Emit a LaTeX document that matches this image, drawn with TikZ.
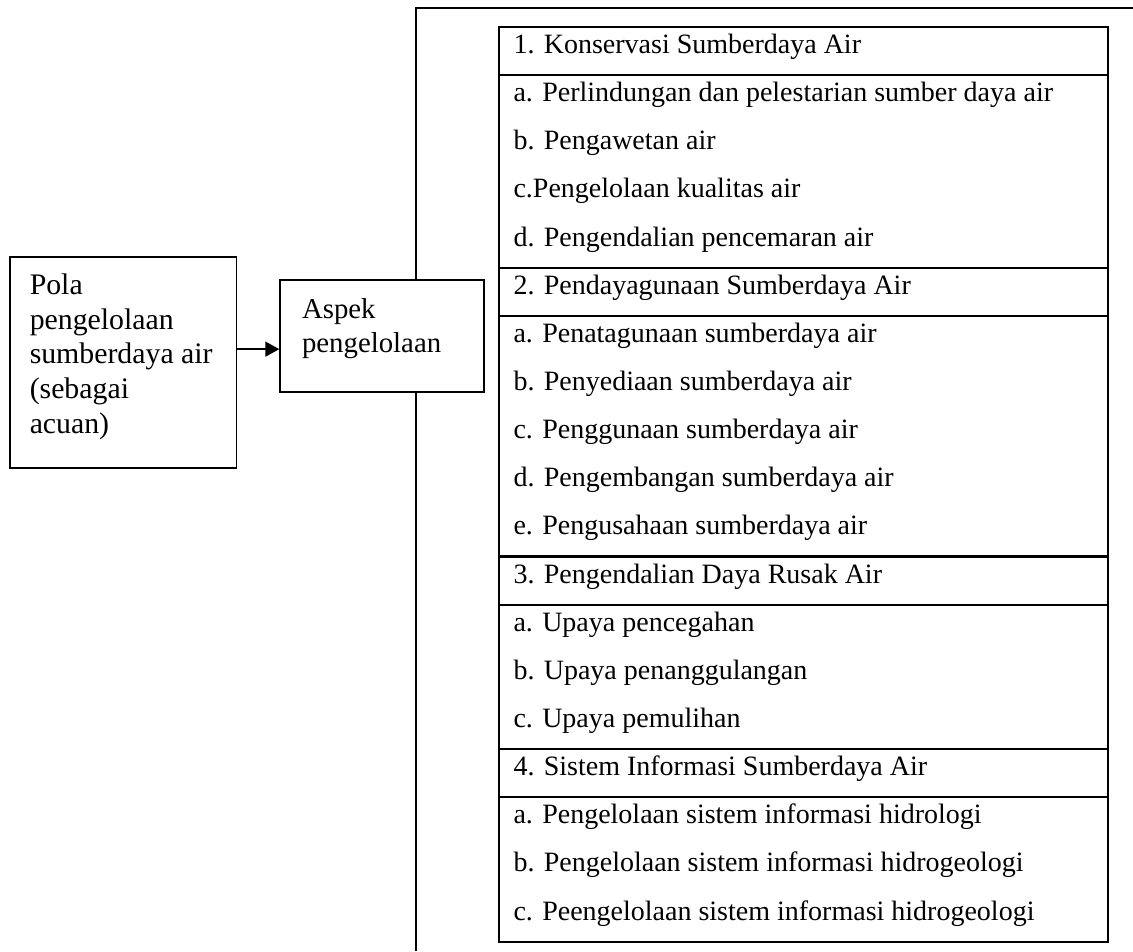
\documentclass[tikz,border=0pt]{standalone}
\usepackage{fontspec}
\setmainfont{Liberation Serif}
\usetikzlibrary{arrows.meta,calc}

\begin{document}
\begin{tikzpicture}[x=1pt, y=-1pt]
    \tikzstyle{mainbox} = [rectangle, draw, line width=1.5pt, anchor=north west, inner ysep=0pt]
    \tikzstyle{celltext} = [anchor=base west, inner sep=0pt, font=\fontsize{28}{34}\selectfont]
    \tikzstyle{tableline} = [line width=2.2pt]
    \tikzstyle{bracket} = [line width=2pt]

    \useasboundingbox (0,0) rectangle (1133,951);

    % Left boxes
    \node[mainbox, inner xsep=20pt, inner ysep=17.2pt, font=\fontsize{29.8}{34.6}\selectfont] (pola) at (9,256)
        {\parbox[t][176.9pt][t]{186.7pt}{Pola\\ pengelolaan\\ sumberdaya air\\ (sebagai\\ acuan)}};
    \node[mainbox, inner xsep=22pt, inner ysep=18.3pt, font=\fontsize{28.8}{34.4}\selectfont] (aspek) at (279.3,279.3)
        {\parbox[t][75.1pt][t]{160pt}{Aspek\\ pengelolaan}};

    % Arrow
    \coordinate (mid) at ($(pola.east)!0.5!(aspek.west)$);
    \draw[line width=1.5pt, -{Triangle[length=14pt, width=15pt]}] (pola.east |- mid) -- (aspek.west |- mid);

    % Bracket
    \coordinate (brtop) at (415.7,7.5);
    \coordinate (brbot) at (415.7,951);
    \coordinate (brend) at (1133,7.5);
    \draw[bracket] (brbot) -- (aspek.south -| brtop);
    \draw[bracket] (aspek.north -| brtop) -- (brtop) -- (brend);

    % Table
    \draw[tableline] (499,27) rectangle (1108,{27+19*48.14});
    \foreach \r in {1,5,6,11,12,15,16} {
        \draw[tableline] (499,{27+\r*48.14}) -- (1108,{27+\r*48.14});
    }

    % Table rows
    \foreach \txt [count=\i from 0] in {
        1. Konservasi Sumberdaya Air,
        a. Perlindungan dan pelestarian sumber daya air,
        b. Pengawetan air,
        c.Pengelolaan kualitas air,
        d. Pengendalian pencemaran air,
        2. Pendayagunaan Sumberdaya Air,
        a. Penatagunaan sumberdaya air,
        b. Penyediaan sumberdaya air,
        c. Penggunaan sumberdaya air,
        d. Pengembangan sumberdaya air,
        e. Pengusahaan sumberdaya air,
        3. Pengendalian Daya Rusak Air,
        a. Upaya pencegahan,
        b. Upaya penanggulangan,
        c. Upaya pemulihan,
        4. Sistem Informasi Sumberdaya Air,
        a. Pengelolaan sistem informasi hidrologi,
        b. Pengelolaan sistem informasi hidrogeologi,
        c. Peengelolaan sistem informasi hidrogeologi} {
        \node[celltext] (row\i) at (513.3,{27+\i*48.14+26.5}) {\txt};
    }
\end{tikzpicture}
\end{document}
